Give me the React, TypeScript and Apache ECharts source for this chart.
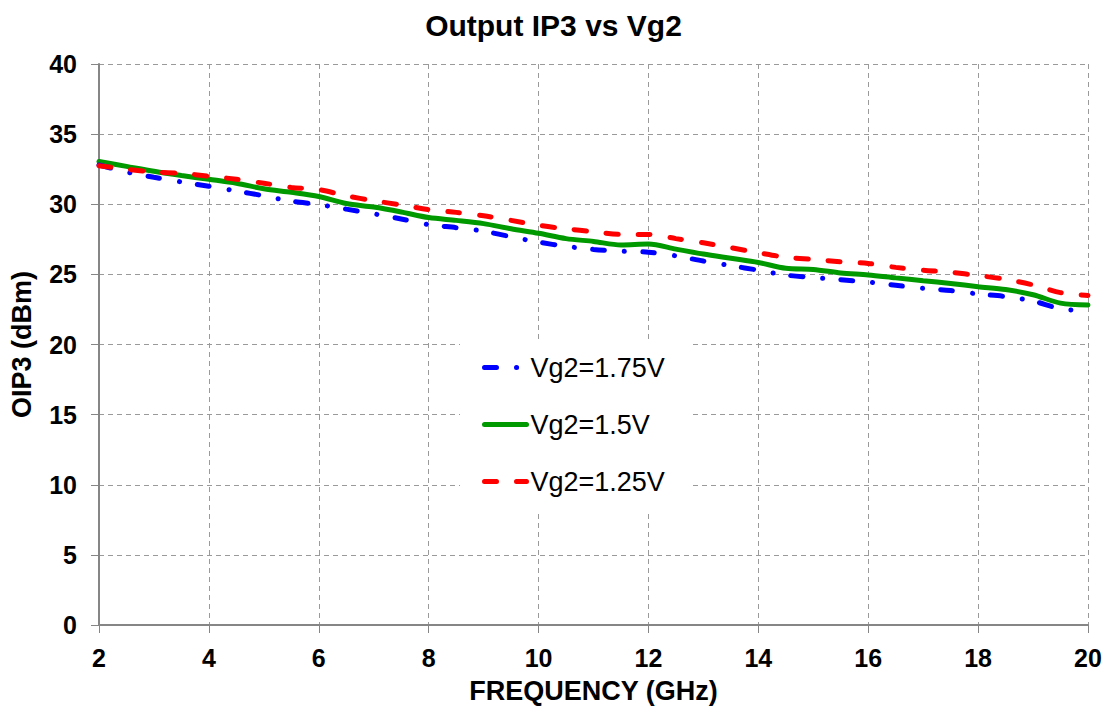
import React, { useEffect, useRef } from "react";
import * as echarts from "echarts";

const freqs: number[] = [2, 2.5, 3, 3.5, 4, 4.5, 5, 5.5, 6, 6.5, 7, 7.5, 8, 8.5, 9, 9.5, 10, 10.5, 11, 11.5, 12, 12.5, 13, 13.5, 14, 14.5, 15, 15.5, 16, 16.5, 17, 17.5, 18, 18.5, 19, 19.5, 20];

const vg175: number[] = [32.8, 32.3, 31.92, 31.59, 31.28, 30.95, 30.6, 30.22, 29.98, 29.65, 29.32, 28.95, 28.55, 28.33, 28.08, 27.68, 27.3, 27.0, 26.78, 26.65, 26.58, 26.32, 25.95, 25.62, 25.3, 24.95, 24.78, 24.62, 24.45, 24.22, 24.0, 23.85, 23.6, 23.42, 23.1, 22.55, 22.4];

const vg15: number[] = [33.05, 32.7, 32.35, 32.05, 31.78, 31.5, 31.1, 30.85, 30.55, 30.05, 29.8, 29.45, 29.05, 28.85, 28.62, 28.25, 27.93, 27.55, 27.35, 27.1, 27.17, 26.8, 26.45, 26.15, 25.85, 25.43, 25.35, 25.1, 24.96, 24.75, 24.55, 24.35, 24.12, 23.92, 23.55, 22.95, 22.82];

const vg125: number[] = [32.75, 32.5, 32.3, 32.2, 32.0, 31.78, 31.5, 31.2, 31.05, 30.6, 30.25, 29.95, 29.62, 29.42, 29.18, 28.85, 28.5, 28.25, 28.05, 27.85, 27.85, 27.55, 27.25, 26.9, 26.55, 26.22, 26.07, 25.9, 25.78, 25.5, 25.3, 25.15, 24.92, 24.65, 24.25, 23.7, 23.5];

const seriesNames: string[] = ["Vg2=1.75V", "Vg2=1.5V", "Vg2=1.25V"];
const xTicks = { min: 2, max: 20, interval: 2 };
const yTicks = { min: 0, max: 40, interval: 5 };

const pair = (ys: number[]) => freqs.map((f, i) => [f, ys[i]]);

export default function App() {
  const ref = useRef<HTMLDivElement>(null);
  useEffect(() => {
    if (!ref.current) return;
    const chart = echarts.init(ref.current, undefined, { renderer: "svg" });
    const font = "'Liberation Sans', Arial, sans-serif";
    const gridColor = "#9a9a9a";
    const axisColor = "#868686";
    chart.setOption({
      animation: false,
      backgroundColor: "#ffffff",
      title: {
        text: "Output IP3 vs Vg2",
        left: "center",
        top: 10,
        padding: 0,
        textStyle: { fontFamily: font, fontWeight: "bold", fontSize: 30, color: "#000" },
      },
      grid: { left: 97, right: 19, top: 64, bottom: 86, containLabel: false },
      legend: {
        data: seriesNames,
        orient: "vertical",
        left: 460,
        top: 340,
        padding: [14, 28, 16, 22],
        itemGap: 30,
        itemWidth: 42,
        itemHeight: 14,
        backgroundColor: "#ffffff",
        itemStyle: { opacity: 0 },
        lineStyle: { width: 5, cap: "round" },
        textStyle: { fontFamily: font, fontSize: 27, color: "#000", padding: [0, 0, 0, -1] },
      },
      xAxis: {
        type: "value",
        min: xTicks.min,
        max: xTicks.max,
        interval: xTicks.interval,
        name: "FREQUENCY (GHz)",
        nameLocation: "middle",
        nameGap: 52,
        nameTextStyle: { fontFamily: font, fontWeight: "bold", fontSize: 27, color: "#000" },
        axisLine: { show: true, lineStyle: { color: axisColor, width: 2 } },
        axisTick: { show: true, length: 8, inside: false, lineStyle: { color: axisColor, width: 1 } },
        axisLabel: { fontFamily: font, fontWeight: "bold", fontSize: 25, color: "#000", margin: 20 },
        splitLine: { show: true, lineStyle: { color: gridColor, type: [5, 4], width: 1 } },
      },
      yAxis: {
        type: "value",
        min: yTicks.min,
        max: yTicks.max,
        interval: yTicks.interval,
        name: "OIP3 (dBm)",
        nameLocation: "middle",
        nameGap: 64,
        nameTextStyle: { fontFamily: font, fontWeight: "bold", fontSize: 27, color: "#000" },
        axisLine: { show: true, lineStyle: { color: axisColor, width: 2 } },
        axisTick: { show: true, length: 8, inside: false, lineStyle: { color: axisColor, width: 1 } },
        axisLabel: { fontFamily: font, fontWeight: "bold", fontSize: 25, color: "#000", margin: 22 },
        splitLine: { show: true, lineStyle: { color: gridColor, type: [5, 4], width: 1 } },
      },
      series: [
        {
          name: seriesNames[1],
          type: "line",
          data: pair(vg15),
          symbol: "none",
          smooth: 0.3,
          z: 2,
          lineStyle: { color: "#009900", width: 5, type: "solid", cap: "round" },
          itemStyle: { color: "#009900" },
        },
        {
          name: seriesNames[0],
          type: "line",
          data: pair(vg175),
          symbol: "none",
          smooth: 0.3,
          z: 3,
          lineStyle: { color: "#0000ff", width: 5, type: [12, 20, 0.1, 18], cap: "round" },
          itemStyle: { color: "#0000ff" },
        },
        {
          name: seriesNames[2],
          type: "line",
          data: pair(vg125),
          symbol: "none",
          smooth: 0.3,
          z: 3,
          lineStyle: { color: "#ff0000", width: 5, type: [12, 20], cap: "round" },
          itemStyle: { color: "#ff0000" },
        },
      ],
    });
    return () => chart.dispose();
  }, []);
  return (
    <div
      ref={ref}
      style={{ position: "fixed", left: 0, top: 0, width: 1107, height: 711, background: "#fff" }}
    />
  );
}
